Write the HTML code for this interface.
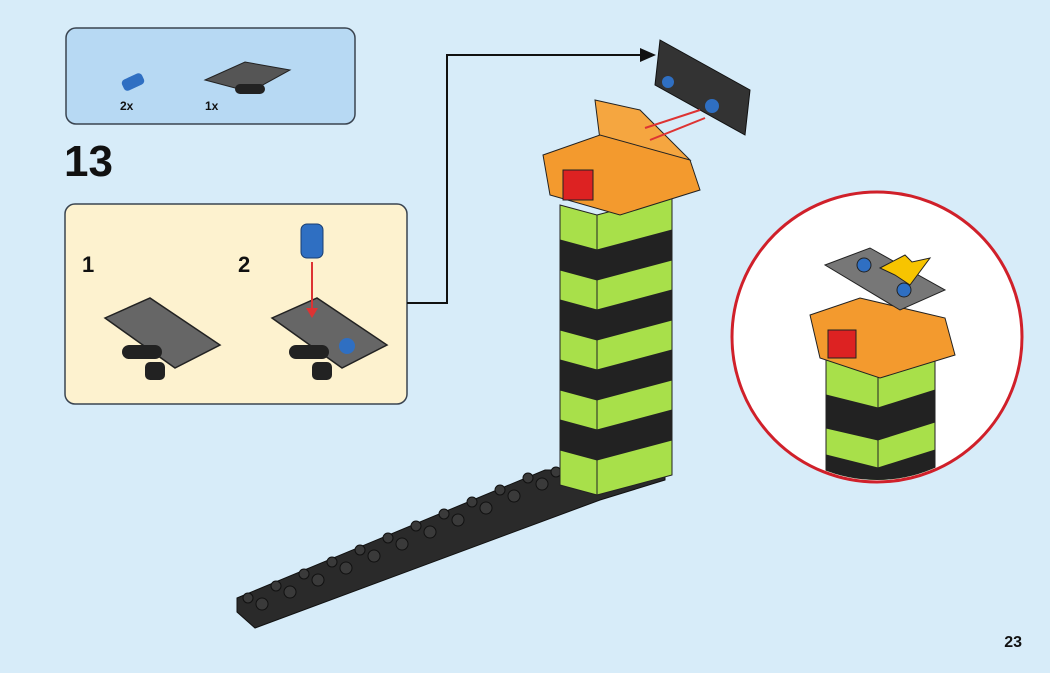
<!DOCTYPE html>
<html><head><meta charset="utf-8"><style>
html,body{margin:0;padding:0;background:#d7ecf9;}
svg{display:block;font-family:"Liberation Sans",sans-serif;}
</style></head><body>
<svg width="1050" height="673" viewBox="0 0 1050 673">
<rect width="1050" height="673" fill="#d7ecf9"/>
<rect x="66" y="28" width="289" height="96" rx="10" fill="#b7d9f3" stroke="#3a4450" stroke-width="1.5"/>
<rect x="122" y="76" width="22" height="12" rx="4" fill="#2f6fc2" transform="rotate(-25 133 82)"/>
<polygon points="205,80 245,62 290,70 250,92" fill="#555" stroke="#222"/>
<rect x="235" y="84" width="30" height="10" rx="5" fill="#222"/>
<text x="120" y="110" font-size="12" font-weight="bold" fill="#111">2x</text>
<text x="205" y="110" font-size="12" font-weight="bold" fill="#111">1x</text>
<text x="64" y="176" font-size="44" font-weight="bold" fill="#111">13</text>
<rect x="65" y="204" width="342" height="200" rx="10" fill="#fdf2cf" stroke="#3a4450" stroke-width="1.5"/>
<text x="82" y="272" font-size="22" font-weight="bold" fill="#111">1</text>
<text x="238" y="272" font-size="22" font-weight="bold" fill="#111">2</text>
<polygon points="105,318 150,298 220,345 175,368" fill="#666" stroke="#222" stroke-width="1.5"/>
<rect x="122" y="345" width="40" height="14" rx="7" fill="#222"/>
<rect x="145" y="362" width="20" height="18" rx="5" fill="#222"/>
<polygon points="272,318 317,298 387,345 342,368" fill="#666" stroke="#222" stroke-width="1.5"/>
<rect x="289" y="345" width="40" height="14" rx="7" fill="#222"/>
<rect x="312" y="362" width="20" height="18" rx="5" fill="#222"/>
<circle cx="347" cy="346" r="8" fill="#2f6fc2"/>
<rect x="301" y="224" width="22" height="34" rx="6" fill="#2f6fc2" stroke="#1a3e70"/>
<line x1="312" y1="262" x2="312" y2="315" stroke="#d33" stroke-width="2"/>
<polygon points="306,308 318,308 312,318" fill="#d33"/>
<polyline points="407,303 447,303 447,55 645,55" fill="none" stroke="#111" stroke-width="2"/>
<polygon points="640,48 656,55 640,62" fill="#111"/>
<!-- baseplate -->
<polygon points="237,598 545,470 580,470 665,470 665,480 600,500 255,628 237,612" fill="#2a2a2a" stroke="#111"/>
<g fill="#3a3a3a" stroke="#111">
<circle cx="262" cy="604" r="6"/><circle cx="290" cy="592" r="6"/><circle cx="318" cy="580" r="6"/><circle cx="346" cy="568" r="6"/><circle cx="374" cy="556" r="6"/><circle cx="402" cy="544" r="6"/><circle cx="430" cy="532" r="6"/><circle cx="458" cy="520" r="6"/><circle cx="486" cy="508" r="6"/><circle cx="514" cy="496" r="6"/><circle cx="542" cy="484" r="6"/>
<circle cx="248" cy="598" r="5"/><circle cx="276" cy="586" r="5"/><circle cx="304" cy="574" r="5"/><circle cx="332" cy="562" r="5"/><circle cx="360" cy="550" r="5"/><circle cx="388" cy="538" r="5"/><circle cx="416" cy="526" r="5"/><circle cx="444" cy="514" r="5"/><circle cx="472" cy="502" r="5"/><circle cx="500" cy="490" r="5"/><circle cx="528" cy="478" r="5"/><circle cx="556" cy="472" r="5"/>
</g>
<g stroke="#222" stroke-width="1">
<polygon points="560,205 597,215 597,495 560,485" fill="#a8e04a"/>
<polygon points="597,215 672,195 672,475 597,495" fill="#a8e04a"/>
<polygon points="560,240 597,250 597,280 560,270" fill="#222"/>
<polygon points="597,250 672,230 672,260 597,280" fill="#222"/>
<polygon points="560,300 597,310 597,340 560,330" fill="#222"/>
<polygon points="597,310 672,290 672,320 597,340" fill="#222"/>
<polygon points="560,360 597,370 597,400 560,390" fill="#222"/>
<polygon points="597,370 672,350 672,380 597,400" fill="#222"/>
<polygon points="560,420 597,430 597,460 560,450" fill="#222"/>
<polygon points="597,430 672,410 672,440 597,460" fill="#222"/>
</g>
<polygon points="595,100 640,110 690,160 600,140" fill="#f5a640" stroke="#222"/>
<polygon points="543,155 600,135 690,160 700,190 620,215 550,195" fill="#f39a2e" stroke="#222"/>
<rect x="563" y="170" width="30" height="30" fill="#d22" stroke="#222"/>
<polygon points="660,40 750,90 745,135 655,85" fill="#333" stroke="#111"/>
<circle cx="668" cy="82" r="6" fill="#2f6fc2"/>
<circle cx="712" cy="106" r="7" fill="#2f6fc2"/>
<line x1="700" y1="110" x2="645" y2="128" stroke="#d33" stroke-width="2"/>
<line x1="705" y1="118" x2="650" y2="140" stroke="#d33" stroke-width="2"/>
<circle cx="877" cy="337" r="145" fill="#fff" stroke="#d0202a" stroke-width="3"/>
<clipPath id="c"><circle cx="877" cy="337" r="143"/></clipPath>
<g clip-path="url(#c)" stroke="#222">
<polygon points="826,355 878,368 878,490 826,480" fill="#a8e04a"/>
<polygon points="878,368 935,350 935,490 878,490" fill="#a8e04a"/>
<polygon points="826,395 878,408 878,440 826,428" fill="#222"/>
<polygon points="878,408 935,390 935,422 878,440" fill="#222"/>
<polygon points="826,455 878,468 878,500 826,488" fill="#222"/>
<polygon points="878,468 935,450 935,482 878,500" fill="#222"/>
<polygon points="810,315 860,298 945,318 955,355 880,378 820,358" fill="#f39a2e"/>
<rect x="828" y="330" width="28" height="28" fill="#d22"/>
<polygon points="825,265 870,248 945,290 900,310" fill="#777"/>
<circle cx="864" cy="265" r="7" fill="#2f6fc2"/>
<circle cx="904" cy="290" r="7" fill="#2f6fc2"/>
<polygon points="880,268 905,255 912,262 930,258 910,285 895,275" fill="#f7c400"/>
</g>
<text x="1022" y="647" font-size="16" font-weight="bold" fill="#111" text-anchor="end">23</text>
</svg>
</body></html>
